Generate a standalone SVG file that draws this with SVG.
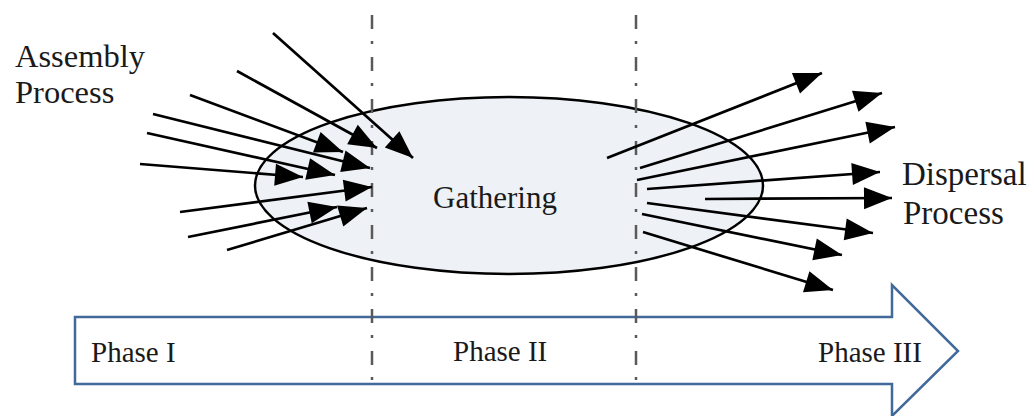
<svg xmlns="http://www.w3.org/2000/svg" width="1034" height="416" viewBox="0 0 1034 416">
<style>
.t{font-family:"Liberation Serif","Times New Roman",serif;fill:#1a1a1a}
.ln{stroke:#000;stroke-width:2.7;fill:none;marker-end:url(#ah)}
.dv{stroke:#5a5a5a;stroke-width:2.5;stroke-dasharray:14 12 3 13;fill:none}
</style>
<defs>
<marker id="ah" markerUnits="userSpaceOnUse" viewBox="-30 -12 32 24" refX="0" refY="0" markerWidth="32" markerHeight="24" orient="auto" overflow="visible">
<path d="M0,0 L-28,-11 L-28,11 Z" fill="#000"/>
</marker>
</defs>
<rect width="1034" height="416" fill="#fff"/>
<g id="phase-arrow">
<polygon points="75,317 892,317 892,285 958,351 892,416 892,384 75,384" fill="#fff" stroke="#416a9a" stroke-width="2.5"/>
<text class="t" x="91" y="362" font-size="29">Phase I</text>
<text class="t" x="453" y="361" font-size="29">Phase II</text>
<text class="t" x="818" y="362" font-size="29">Phase III</text>
</g>
<g id="gathering">
<ellipse cx="509" cy="185.5" rx="254" ry="88.5" fill="#eef2f6" stroke="#000" stroke-width="2.5"/>
<text class="t" x="433" y="208" font-size="31">Gathering</text>
</g>
<g id="dividers">
<line class="dv" x1="372" y1="15" x2="372" y2="382"/>
<line class="dv" x1="636" y1="15" x2="636" y2="382"/>
</g>
<g id="assembly">
<text class="t" x="15" y="67" font-size="32.5">Assembly</text>
<text class="t" x="15" y="103" font-size="32.5">Process</text>
</g>
<g id="dispersal">
<text class="t" x="902" y="185" font-size="33">Dispersal</text>
<text class="t" x="903" y="224" font-size="33">Process</text>
</g>
<g id="connectors">
<line class="ln" x1="273" y1="33" x2="413" y2="158"/>
<line class="ln" x1="237" y1="71" x2="377" y2="148"/>
<line class="ln" x1="190" y1="95" x2="343" y2="152"/>
<line class="ln" x1="153" y1="114" x2="370" y2="168"/>
<line class="ln" x1="147" y1="133" x2="335" y2="175"/>
<line class="ln" x1="140" y1="164" x2="303" y2="177"/>
<line class="ln" x1="180" y1="212" x2="372" y2="187"/>
<line class="ln" x1="188" y1="237" x2="337" y2="207"/>
<line class="ln" x1="227" y1="250" x2="367" y2="208"/>
<line class="ln" x1="607" y1="158" x2="822" y2="73"/>
<line class="ln" x1="640" y1="168" x2="882" y2="93"/>
<line class="ln" x1="637" y1="180" x2="895" y2="127"/>
<line class="ln" x1="647" y1="189" x2="880" y2="172"/>
<line class="ln" x1="705" y1="199" x2="892" y2="198"/>
<line class="ln" x1="647" y1="203" x2="873" y2="233"/>
<line class="ln" x1="642" y1="214" x2="842" y2="255"/>
<line class="ln" x1="643" y1="232" x2="833" y2="290"/>
</g>
</svg>
